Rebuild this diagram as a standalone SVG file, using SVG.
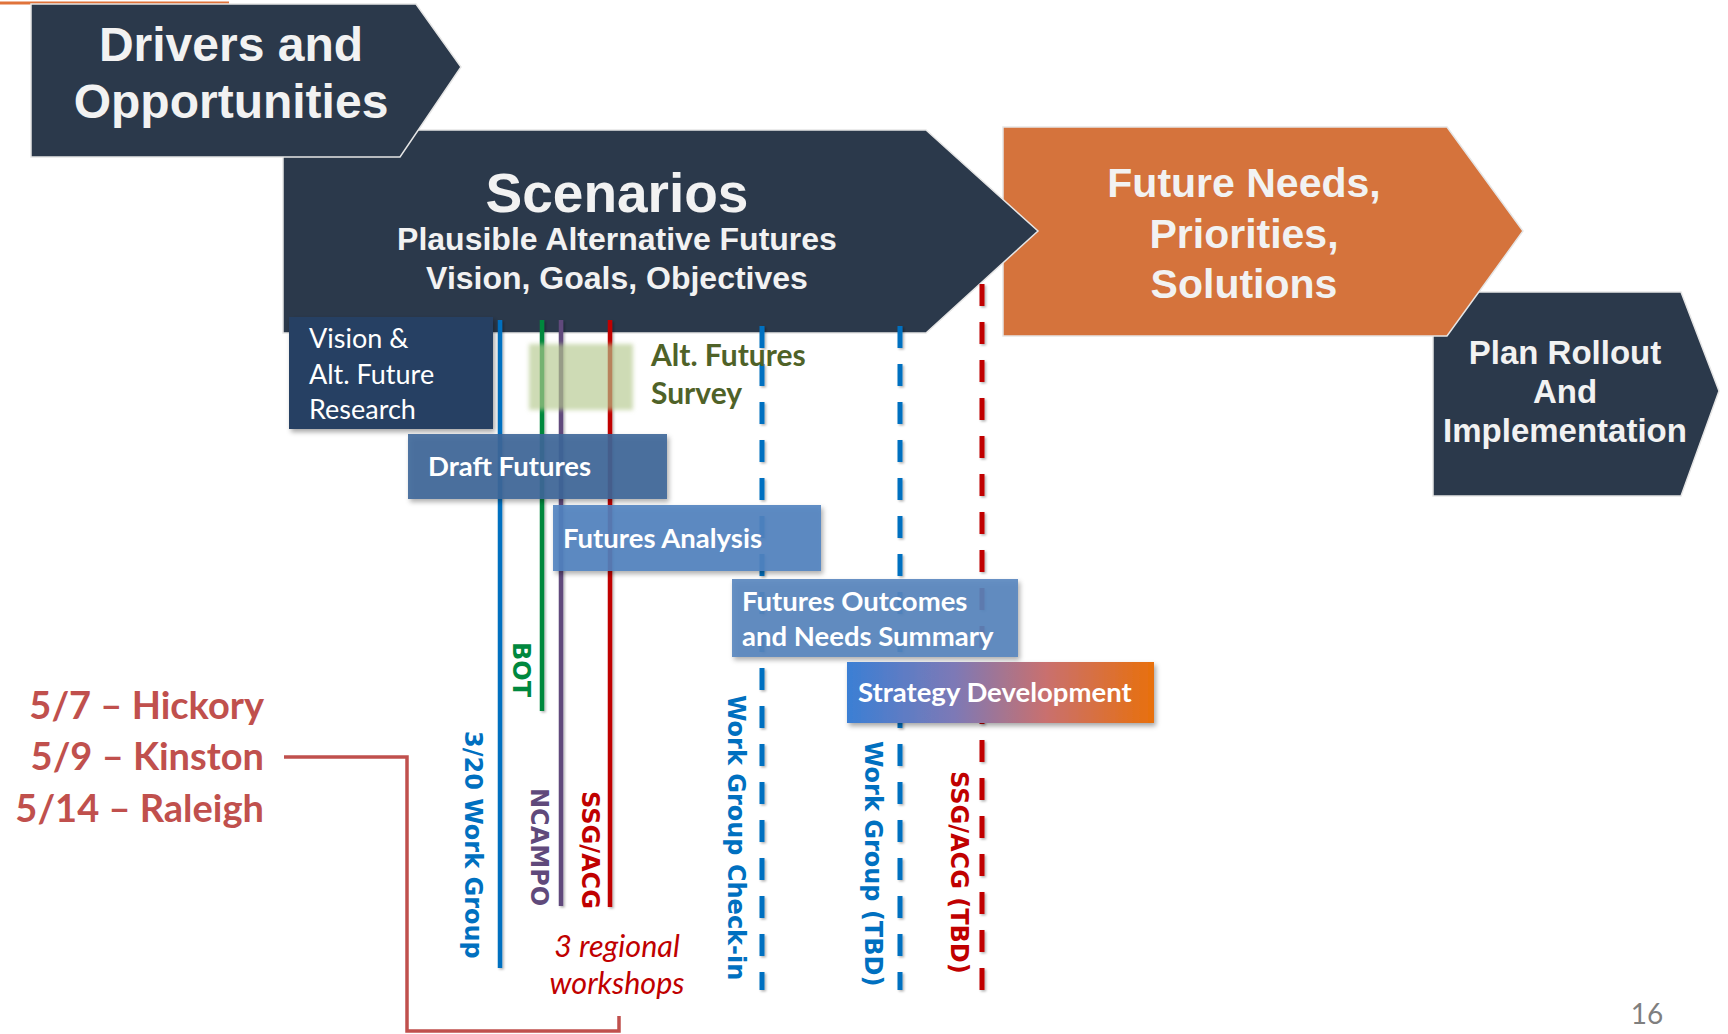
<svg xmlns="http://www.w3.org/2000/svg" width="1728" height="1034" viewBox="0 0 1728 1034">
<defs>
<style>
.chev{stroke:#e6e6e6;stroke-width:1.5}
.dark{fill:#2b394b}
.orange{fill:#d5733c}
.head{font-family:"Liberation Sans",Arial,sans-serif;font-weight:bold;fill:#f2f2f2;text-anchor:middle}
.box{font-family:Lato,"Open Sans",sans-serif;fill:#ffffff}
.bold{font-weight:bold}
.rot{font-family:"DejaVu Sans",Verdana,sans-serif;font-weight:bold;font-size:24px}
.solid{stroke-width:4.5;fill:none}
.dash{stroke-width:5;fill:none;stroke-dasharray:22 16}
.date{font-family:Lato,"Open Sans",sans-serif;font-weight:bold;font-size:38px;fill:#c0504d;text-anchor:end}
</style>
<filter id="sh" x="-10%" y="-10%" width="130%" height="140%">
<feDropShadow dx="2" dy="3" stdDeviation="2.5" flood-color="#000" flood-opacity="0.35"/>
</filter>
<filter id="lsh" filterUnits="userSpaceOnUse" x="0" y="0" width="1728" height="1034">
<feDropShadow dx="1.5" dy="1.5" stdDeviation="1" flood-color="#000" flood-opacity="0.3"/>
</filter>
<filter id="blur" x="-20%" y="-20%" width="140%" height="140%">
<feGaussianBlur stdDeviation="2"/>
</filter>
<linearGradient id="grad" x1="0" y1="0" x2="1" y2="0">
<stop offset="0" stop-color="#3b7fd4"/>
<stop offset="0.35" stop-color="#7d79b6"/>
<stop offset="0.65" stop-color="#c9706e"/>
<stop offset="1" stop-color="#e8700c"/>
</linearGradient>
</defs>

<line x1="0" y1="3" x2="229" y2="3" stroke="#e0733a" stroke-width="3"/>

<g id="plan-rollout">
<polygon class="chev dark" points="1433,292 1681,292 1719,391 1681,496 1433,496"/>
<text class="head" font-size="33" x="1565" y="364">Plan Rollout</text>
<text class="head" font-size="33" x="1565" y="403">And</text>
<text class="head" font-size="33" x="1565" y="442">Implementation</text>
</g>

<g id="future-needs">
<polygon class="chev orange" points="1003,127 1447,127 1523,231 1447,336 1003,336"/>
<text class="head" font-size="41" x="1244" y="197">Future Needs,</text>
<text class="head" font-size="41" x="1244" y="248">Priorities,</text>
<text class="head" font-size="41" x="1244" y="298">Solutions</text>
</g>

<g id="scenarios">
<polygon class="chev dark" points="283,130 926,130 1038,231 926,333 283,333"/>
<text class="head" font-size="55" x="617" y="212">Scenarios</text>
<text class="head" font-size="32" x="617" y="250">Plausible Alternative Futures</text>
<text class="head" font-size="32" x="617" y="289">Vision, Goals, Objectives</text>
</g>

<g id="drivers">
<polygon class="chev dark" points="31,4 416,4 461,67 400,157 31,157"/>
<text class="head" font-size="48" x="231" y="61">Drivers and</text>
<text class="head" font-size="48" x="231" y="118">Opportunities</text>
</g>

<g id="connectors" filter="url(#lsh)">
<line class="solid" x1="500" y1="320" x2="500" y2="968" stroke="#0070c0"/>
<line class="solid" x1="542" y1="320" x2="542" y2="711" stroke="#00883e"/>
<line class="solid" x1="561" y1="320" x2="561" y2="906" stroke="#604a7b"/>
<line class="solid" x1="610" y1="320" x2="610" y2="907" stroke="#c00000"/>
<line class="dash" x1="762" y1="326" x2="762" y2="990" stroke="#0070c0"/>
<line class="dash" x1="900" y1="326" x2="900" y2="990" stroke="#0070c0"/>
<line class="dash" x1="982" y1="284" x2="982" y2="990" stroke="#c00000"/>
</g>
<g id="workshop-connector">
<polyline points="284,757 407,757 407,1031 619,1031 619,1016" fill="none" stroke="#c0504d" stroke-width="3.5"/>
</g>

<g id="vision-research">
<rect x="289" y="317" width="204" height="112" fill="#253f63" filter="url(#sh)"/>
<text class="box" font-size="27" x="309" y="348">Vision &amp;</text>
<text class="box" font-size="27" x="309" y="384">Alt. Future</text>
<text class="box" font-size="27" x="309" y="419">Research</text>
</g>

<g id="alt-futures-survey">
<rect x="529" y="344" width="104" height="66" fill="#b3c78d" fill-opacity="0.65" filter="url(#blur)"/>
<text class="box bold" font-size="30" style="fill:#4f6228" x="651" y="366">Alt. Futures</text>
<text class="box bold" font-size="30" style="fill:#4f6228" x="651" y="404">Survey</text>
</g>

<g id="draft-futures">
<rect x="408" y="434" width="259" height="65" fill="#3e6699" fill-opacity="0.9" filter="url(#sh)"/>
<text class="box bold" font-size="27.5" x="428" y="476">Draft Futures</text>
</g>

<g id="futures-analysis">
<rect x="553" y="505" width="268" height="66" fill="#5283c0" fill-opacity="0.9" filter="url(#sh)"/>
<text class="box bold" font-size="27.5" x="563" y="548">Futures Analysis</text>
</g>

<g id="futures-outcomes">
<rect x="732" y="579" width="286" height="78" fill="#5685be" fill-opacity="0.9" filter="url(#sh)"/>
<text class="box bold" font-size="27.5" x="742" y="611">Futures Outcomes</text>
<text class="box bold" font-size="27.5" x="742" y="646">and Needs Summary</text>
</g>

<g id="strategy-development">
<rect x="847" y="662" width="307" height="61" fill="url(#grad)" filter="url(#sh)"/>
<text class="box bold" font-size="27.5" x="858" y="702">Strategy Development</text>
</g>

<g id="labels">
<text class="rot" fill="#00883e" transform="translate(513,642) rotate(90)">BOT</text>
<text class="rot" fill="#0070c0" transform="translate(465,731) rotate(90)">3/20 Work Group</text>
<text class="rot" fill="#604a7b" transform="translate(531,788) rotate(90)">NCAMPO</text>
<text class="rot" fill="#c00000" transform="translate(582,791) rotate(90)">SSG/ACG</text>
<text class="rot" fill="#0070c0" transform="translate(728,695) rotate(90)">Work Group Check-in</text>
<text class="rot" fill="#0070c0" transform="translate(865,741) rotate(90)">Work Group (TBD)</text>
<text class="rot" fill="#c00000" transform="translate(951,771) rotate(90)">SSG/ACG (TBD)</text>
<text font-family="Lato,'Open Sans',sans-serif" font-style="italic" font-size="30.5" fill="#c00000" text-anchor="middle" x="617" y="957">3 regional</text>
<text font-family="Lato,'Open Sans',sans-serif" font-style="italic" font-size="30.5" fill="#c00000" text-anchor="middle" x="617" y="994">workshops</text>
<text class="date" x="264" y="719">5/7 – Hickory</text>
<text class="date" x="264" y="770">5/9 – Kinston</text>
<text class="date" x="264" y="822">5/14 – Raleigh</text>
<text font-family="Lato,'Open Sans',sans-serif" font-size="28" fill="#7f7f7f" text-anchor="middle" x="1647" y="1024">16</text>
</g>
</svg>
